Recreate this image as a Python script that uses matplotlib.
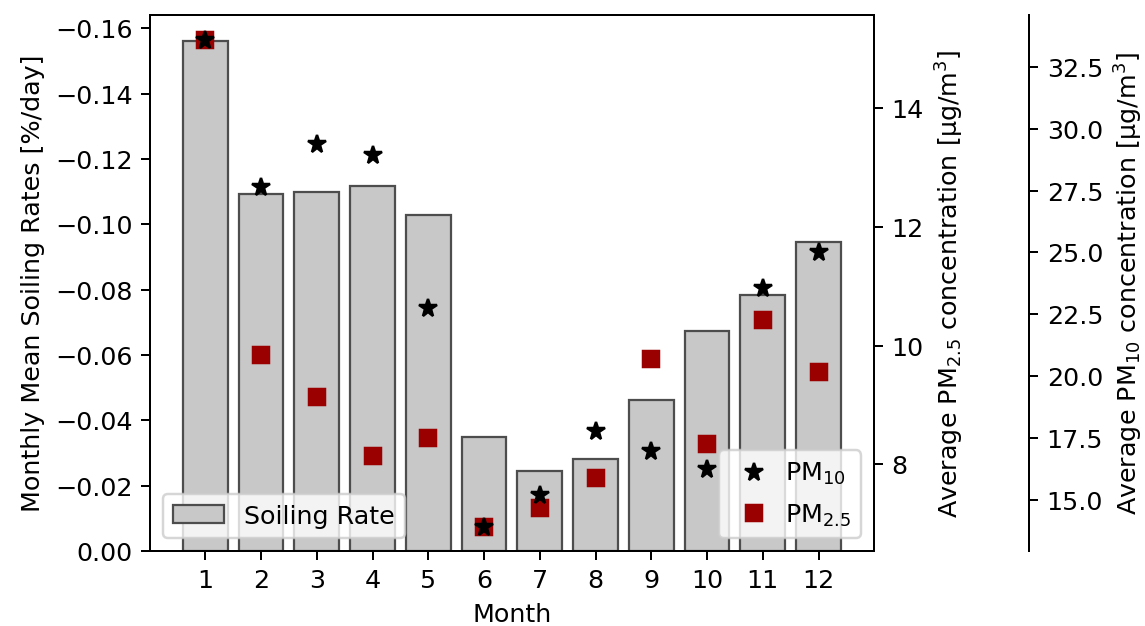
import matplotlib
matplotlib.use("Agg")
import matplotlib.pyplot as plt
import numpy as np

months = np.arange(1, 13)
soiling_rate = [-0.1562, -0.1092, -0.1098, -0.1116, -0.1030, -0.0349,
                -0.0246, -0.0282, -0.0463, -0.0674, -0.0785, -0.0946]
pm25 = [15.16, 9.84, 9.14, 8.15, 8.44, 6.95, 7.26, 7.77, 9.77, 8.34, 10.44, 9.56]
pm10 = [33.60, 27.63, 29.39, 28.92, 22.75, 13.92, 15.20, 17.80, 16.96, 16.24, 23.58, 25.03]

plt.rcParams.update({"font.size": 10.2})

fig = plt.figure(figsize=(6.4, 3.5), dpi=179)
ax = fig.add_axes([0.131, 0.1196, 0.6317, 0.8554])
ax.bar(months, soiling_rate, width=0.8, color="#c8c8c8", edgecolor="#4d4d4d",
       linewidth=0.9, label="Soiling Rate")
ax.invert_yaxis()
ax.set_xticks(months)
ax.set_xlabel("Month")
ax.set_ylabel("Monthly Mean Soiling Rates [%/day]")
ax.legend(loc="lower left")

ax2 = ax.twinx()
sq, = ax2.plot(months, pm25, "s", color="#9a0000", markersize=6.5,
               linestyle="none", label="PM$_{2.5}$")
ax2.set_ylabel("Average PM$_{2.5}$ concentration [µg/m$^3$]")

ax3 = ax.twinx()
ax3.spines["right"].set_position(("axes", 1.215))
st, = ax3.plot(months, pm10, "*", color="black", markersize=7.5,
               linestyle="none", label="PM$_{10}$")
ax3.set_ylabel("Average PM$_{10}$ concentration [µg/m$^3$]")
ax3.legend(handles=[st, sq], loc="lower right", handletextpad=0.2,
           labelspacing=0.6)

fig.savefig("out.png", dpi=179)
